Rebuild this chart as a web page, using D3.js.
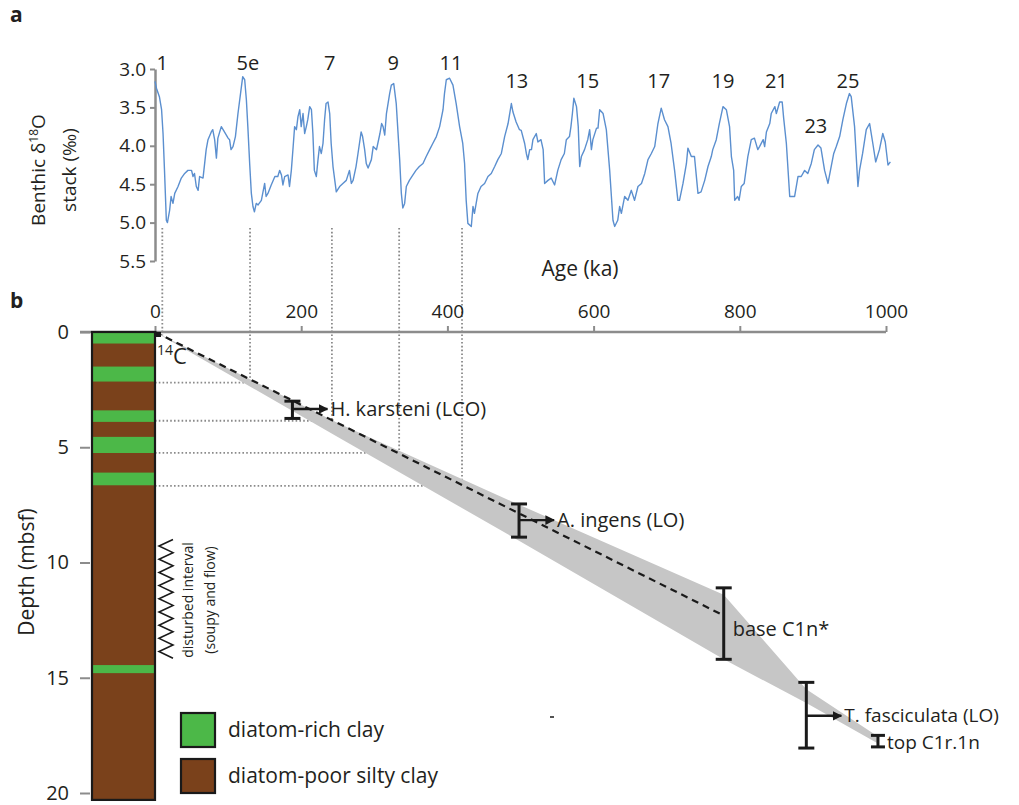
<!DOCTYPE html>
<html>
<head>
<meta charset="utf-8">
<script src="https://cdn.jsdelivr.net/npm/d3@7"></script>
<style>
body { margin: 0; background: #fff; }
text { font-family: "Open Sans", Lato, sans-serif; fill: #231f20; }
</style>
</head>
<body>
<svg id="chart" width="1019" height="805"></svg>
<script>
// benthic stack
var stackAge = [0,2,6,9,11,13,15.5,17,20,22,24.6,27,31.5,36,40.6,45,50,52,54,56.5,59,61,65.7,70,72.5,77,79,81.6,84,86,90.7,95,97.6,100,102,104,106.7,110,113.5,117,120,122.7,125,127,129.5,131.8,134,136,138.5,141,145.5,150,152,154.5,159,164,168,170.5,173,175,177.4,182,184,186.5,189,191,193.4,195.6,198,200,202.5,204.7,207,209,211.6,214,216,218,220.7,223,225,227.5,229.8,232,234,236.7,239,241,243.5,248,252.6,257,261.7,266,268.6,271,275,277.7,282,284,286.8,289,291.5,296,298.5,303,307.7,310,312,314.3,316.6,321,323.3,326.6,330,334.7,337,339,341.5,343.8,348,352.9,357,361.6,366.6,371,375.7,380,384.9,389.4,394,396,398.5,403,407.6,412,416.7,421,423.5,425.7,428,432.7,435,437,441.7,446,450.9,455.5,460,464.7,469,473.8,478.3,483,487.5,489.7,494,498.6,501,505.7,508,510,512.6,515,517,521.6,523.8,528,531,533,537.6,542,546.7,551,555.6,560,562.7,567,569,571,573,576.6,579,581,583.3,587.6,592,594.6,597,599,604,606,608.3,613,617.4,622,626.5,628.8,633,635.6,638,642.5,647,651.6,656,660.7,665.5,670,674.4,679,683.6,688,692.5,697,701.7,706,710.8,715.3,717.5,722.3,727,729,733.7,738,742.8,747,752,756.5,761,763,767.8,772,777,781.6,786,788.5,791.6,793,797,799,802,806,811,815.7,820,824.6,827,832,834,836.4,841,843,848,850,854.5,858,860,863.7,868.3,875,879.6,884,888.7,893,897.8,902,907,911,916,920.6,925,928.5,932,936.6,941,945.8,950,952.4,957,961.6,963.8,968,973,977.6,982,985.9,991,995.6,999,1002.7,1006];
var stackD18O = [3.16,3.25,3.36,3.53,3.84,4.32,4.97,5.00,4.84,4.66,4.75,4.62,4.53,4.42,4.36,4.32,4.32,4.40,4.36,4.53,4.58,4.40,4.42,4.05,3.92,3.82,3.79,3.92,4.16,3.90,3.75,3.82,3.86,3.90,3.92,4.05,4.01,3.88,3.58,3.32,3.10,3.14,3.40,3.75,4.23,4.62,4.79,4.86,4.75,4.77,4.71,4.49,4.66,4.62,4.51,4.40,4.40,4.32,4.38,4.51,4.40,4.38,4.53,4.32,4.01,3.75,3.79,3.62,3.53,3.75,3.58,3.84,3.75,3.66,3.49,3.53,3.84,4.32,4.40,4.18,4.01,4.10,3.97,3.66,3.45,3.43,3.58,3.97,4.27,4.60,4.53,4.49,4.45,4.32,4.49,4.45,4.27,4.10,3.82,3.88,4.05,4.23,4.29,4.18,4.01,4.05,3.84,3.71,3.75,3.86,3.58,3.32,3.21,3.19,3.45,4.18,4.62,4.81,4.75,4.53,4.45,4.38,4.32,4.27,4.23,4.14,4.05,3.97,3.88,3.75,3.53,3.32,3.14,3.12,3.21,3.45,3.75,3.97,4.23,4.71,5.01,5.05,4.79,4.88,4.62,4.53,4.49,4.40,4.36,4.27,4.18,4.10,3.88,3.71,3.45,3.56,3.69,3.79,3.80,3.97,4.10,4.18,4.05,4.05,3.92,3.84,3.95,3.92,4.05,4.49,4.45,4.42,4.51,4.32,4.18,4.10,3.92,3.88,3.75,3.58,3.38,3.49,3.75,4.27,4.14,4.05,3.92,3.79,4.05,3.92,3.77,3.77,3.53,3.58,3.79,4.32,4.97,5.05,4.97,4.79,4.88,4.66,4.71,4.58,4.71,4.53,4.49,4.36,4.18,4.10,4.01,3.71,3.51,3.66,3.75,3.97,4.32,4.71,4.71,4.49,4.23,4.03,4.14,4.14,4.62,4.60,4.45,4.27,4.14,4.05,3.92,3.71,3.49,3.53,3.75,4.14,4.32,4.71,4.66,4.71,4.53,4.49,4.14,3.92,3.90,4.05,4.01,3.92,4.01,3.82,3.71,3.58,3.49,3.58,3.43,3.43,3.64,3.97,4.66,4.66,4.40,4.40,4.32,4.36,4.23,4.05,3.99,4.03,4.32,4.49,4.27,4.10,4.01,3.88,3.66,3.45,3.32,3.36,3.75,4.53,4.32,4.10,3.79,3.71,3.97,4.21,4.05,3.84,3.95,4.25,4.21];

var misLabel = ["1","5e","7","9","11","13","15","17","19","21","23","25"];
var misAge = [10, 127, 239, 326, 405, 495, 592, 689, 777, 850, 904, 948];
var misD18O = [2.92, 2.92, 2.92, 2.92, 2.92, 3.16, 3.16, 3.16, 3.16, 3.16, 3.74, 3.16];

var d18OTicks = [3.0, 3.5, 4.0, 4.5, 5.0, 5.5];
var ageTicks = [0, 200, 400, 600, 800, 1000];
var depthTicks = [0, 5, 10, 15, 20];

// terminations tied to depth
var termAge = [10, 130, 242, 334, 420];
var termDepth = [0.15, 2.2, 3.85, 5.24, 6.68];

// diatom-rich beds (m)
var bandTop = [0, 1.5, 3.4, 4.55, 6.1, 14.45];
var bandBottom = [0.5, 2.15, 3.9, 5.25, 6.65, 14.8];

// age model
var modelAge = [0, 188, 498, 778];
var modelDepth = [0, 2.97, 7.87, 12.3];
var envAge = [0, 250, 495, 778, 891, 989];
var envShallow = [0, 3.95, 7.45, 11.4, 15.5, 17.55];
var envDeep = [0, 4.55, 9.0, 14.2, 16.1, 17.85];

// datums
var datumName = ["H. karsteni (LCO)", "A. ingens (LO)", "base C1n*", "T. fasciculata (LO)", "top C1r.1n"];
var datumAge = [188, 498, 778, 891, 989];
var datumTop = [3.0, 7.46, 11.1, 15.2, 17.5];
var datumBottom = [3.75, 8.9, 14.2, 18.05, 18.0];
var datumArrow = [true, true, false, true, false];
var datumMid = [3.34, 8.16, 12.9, 16.65, 17.8];

var legendLabel = ["diatom-rich clay", "diatom-poor silty clay"];
var legendColor = ["#4cb848", "#7a411b"];

var disturbedTop = 9.0, disturbedBottom = 14.15;

var svg = d3.select("#chart");
var gray = "#8c8c8c";
var ff = "'Open Sans', Lato, sans-serif";

var x = d3.scaleLinear().domain([0, 1000]).range([155, 886]);
var yO = d3.scaleLinear().domain([3.0, 5.5]).range([69, 261]);
var yD = d3.scaleLinear().domain([0, 20]).range([332, 793]);

svg.append("text").attr("x", 10).attr("y", 22).style("font-weight", "bold").style("font-size", "21px").text("a");
svg.append("text").attr("x", 10).attr("y", 308).style("font-weight", "bold").style("font-size", "21px").text("b");

// ---- panel a
var axA = svg.append("g").attr("transform", "translate(155,0)")
	.call(d3.axisLeft(yO).tickValues(d18OTicks).tickFormat(d3.format(".1f")).tickSize(5).tickSizeOuter(0).tickPadding(4));
axA.select(".domain").attr("stroke", gray).attr("stroke-width", 2.5);
axA.selectAll(".tick line").attr("stroke", gray).attr("stroke-width", 2);
axA.selectAll(".tick text").style("font-size", "19px").attr("fill", "#231f20").style("font-family", ff);

var yl = svg.append("text").attr("transform", "translate(45,170) rotate(-90)").attr("text-anchor", "middle").style("font-size", "19px");
yl.append("tspan").text("Benthic δ");
yl.append("tspan").attr("dy", -7).style("font-size", "12px").text("18");
yl.append("tspan").attr("dy", 7).text("O");
svg.append("text").attr("transform", "translate(76,170) rotate(-90)").attr("text-anchor", "middle").style("font-size", "19px").text("stack (‰)");

// dotted guide lines
var dot = svg.append("g").attr("stroke", "#8a8a8a").attr("stroke-width", 1.8).attr("stroke-dasharray", "1.6,2.2").attr("fill", "none");
termAge.forEach(function(a, i) {
	dot.append("line").attr("x1", x(a)).attr("x2", x(a)).attr("y1", 228).attr("y2", yD(termDepth[i]));
	if (i > 0) dot.append("line").attr("x1", 155).attr("x2", x(a)).attr("y1", yD(termDepth[i])).attr("y2", yD(termDepth[i]));
});

var line = d3.line().x(function(d, i) { return x(stackAge[i]); }).y(function(d) { return yO(d); });
svg.append("path").datum(stackD18O).attr("d", line).attr("fill", "none").attr("stroke", "#5b8fcf").attr("stroke-width", 1.4).attr("stroke-linejoin", "round");

svg.selectAll(".mis").data(misLabel).enter().append("text")
	.attr("x", function(d, i) { return x(misAge[i]); })
	.attr("y", function(d, i) { return yO(misD18O[i]); })
	.attr("dy", "0.35em").attr("text-anchor", "middle").style("font-size", "20px").text(function(d) { return d; });

svg.append("text").attr("x", 580).attr("y", 276).attr("text-anchor", "middle").style("font-size", "21px").text("Age (ka)");

// ---- panel b
svg.append("line").attr("x1", 80).attr("x2", x(1000)).attr("y1", 332).attr("y2", 332).attr("stroke", gray).attr("stroke-width", 2.5);
var axB = svg.append("g").attr("transform", "translate(0,332)")
	.call(d3.axisTop(x).tickValues(ageTicks).tickFormat(d3.format("d")).tickSize(6).tickSizeOuter(0).tickPadding(8));
axB.select(".domain").remove();
axB.selectAll(".tick line").attr("stroke", gray).attr("stroke-width", 2);
axB.selectAll(".tick text").style("font-size", "19px").attr("fill", "#231f20").style("font-family", ff);

var axD = svg.append("g").attr("transform", "translate(90,0)")
	.call(d3.axisLeft(yD).tickValues(depthTicks).tickSize(10).tickSizeOuter(0).tickPadding(11));
axD.select(".domain").remove();
axD.selectAll(".tick line").attr("stroke", gray).attr("stroke-width", 2);
axD.selectAll(".tick text").style("font-size", "20px").attr("fill", "#231f20").style("font-family", ff);

svg.append("text").attr("transform", "translate(34,572) rotate(-90)").attr("text-anchor", "middle").style("font-size", "21px").text("Depth (mbsf)");

// core column
svg.append("rect").attr("x", 92).attr("y", yD(0)).attr("width", 63).attr("height", yD(20.3) - yD(0)).attr("fill", legendColor[1]);
svg.selectAll(".band").data(bandTop).enter().append("rect")
	.attr("x", 92).attr("width", 63)
	.attr("y", function(d) { return yD(d); })
	.attr("height", function(d, i) { return yD(bandBottom[i]) - yD(d); })
	.attr("fill", legendColor[0]);
svg.append("rect").attr("x", 92).attr("y", yD(0)).attr("width", 63).attr("height", yD(20.3) - yD(0)).attr("fill", "none").attr("stroke", "#1a1a1a").attr("stroke-width", 2.2);

// disturbed interval
var zz = [];
var nz = 18;
for (var i = 0; i <= nz; i++) {
	zz.push([i % 2 == 0 ? 173 : 159, yD(disturbedTop + (disturbedBottom - disturbedTop) * i / nz)]);
}
svg.append("path").attr("d", d3.line()(zz)).attr("fill", "none").attr("stroke", "#1a1a1a").attr("stroke-width", 1.6);
svg.append("text").attr("transform", "translate(193,600) rotate(-90)").attr("text-anchor", "middle").style("font-size", "14px").text("disturbed interval");
svg.append("text").attr("transform", "translate(215,600) rotate(-90)").attr("text-anchor", "middle").style("font-size", "14px").text("(soupy and flow)");

// envelope
var env = envAge.map(function(a, i) { return [x(a), yD(envShallow[i])]; })
	.concat(envAge.slice().reverse().map(function(a, i) { return [x(a), yD(envDeep[envAge.length - 1 - i])]; }));
svg.append("path").attr("d", d3.line()(env) + "Z").attr("fill", "#c6c6c6");

svg.append("path").datum(modelDepth)
	.attr("d", d3.line().x(function(d, i) { return x(modelAge[i]); }).y(function(d) { return yD(d); }))
	.attr("fill", "none").attr("stroke", "#1a1a1a").attr("stroke-width", 2.2).attr("stroke-dasharray", "7,5");

// 14C
svg.append("rect").attr("x", x(0)).attr("y", yD(0)).attr("width", 6).attr("height", 5).attr("fill", "#1a1a1a");
var c14 = svg.append("text").attr("x", 157).attr("y", 364).style("font-size", "22px");
c14.append("tspan").attr("dy", -9).style("font-size", "14px").text("14");
c14.append("tspan").attr("dy", 9).text("C");

// datums
svg.append("defs").append("marker").attr("id", "ah").attr("viewBox", "0 0 10 10").attr("refX", 9).attr("refY", 5)
	.attr("markerWidth", 4).attr("markerHeight", 4).attr("orient", "auto").attr("markerUnits", "strokeWidth")
	.append("path").attr("d", "M0,0L10,5L0,10Z").attr("fill", "#1a1a1a");

var dg = svg.append("g").attr("stroke", "#1a1a1a").attr("stroke-width", 3);
datumAge.forEach(function(a, i) {
	var cx = x(a), cw = i == 4 ? 7 : 8;
	dg.append("line").attr("x1", cx).attr("x2", cx).attr("y1", yD(datumTop[i])).attr("y2", yD(datumBottom[i]));
	dg.append("line").attr("x1", cx - cw).attr("x2", cx + cw).attr("y1", yD(datumTop[i])).attr("y2", yD(datumTop[i]));
	dg.append("line").attr("x1", cx - cw).attr("x2", cx + cw).attr("y1", yD(datumBottom[i])).attr("y2", yD(datumBottom[i]));
	if (datumArrow[i]) {
		dg.append("line").attr("x1", cx).attr("x2", cx + 35).attr("y1", yD(datumMid[i])).attr("y2", yD(datumMid[i]))
			.attr("stroke-width", 2.4).attr("marker-end", "url(#ah)");
	}
	svg.append("text").attr("x", datumArrow[i] ? cx + 38 : cx + 9).attr("y", yD(datumMid[i])).attr("dy", "0.35em")
		.style("font-size", i >= 3 ? "19px" : "20px").text(datumName[i]);
});

svg.append("line").attr("x1", 550).attr("x2", 554).attr("y1", 717).attr("y2", 717).attr("stroke", "#1a1a1a").attr("stroke-width", 1.5);

// legend
legendLabel.forEach(function(l, i) {
	svg.append("rect").attr("x", 181).attr("y", 713 + i * 46).attr("width", 34).attr("height", 34)
		.attr("fill", legendColor[i]).attr("stroke", "#1a1a1a").attr("stroke-width", 2.2);
	svg.append("text").attr("x", 228).attr("y", 730 + i * 46).attr("dy", "0.35em").style("font-size", "21px").text(l);
});
</script>
</body>
</html>
